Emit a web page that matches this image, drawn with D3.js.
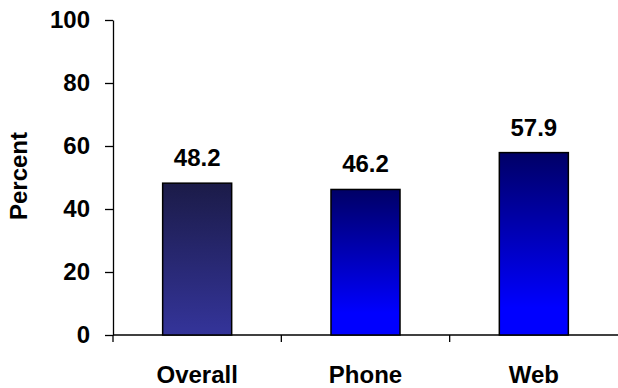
<!DOCTYPE html>
<html>
<head>
<meta charset="utf-8">
<script src="https://cdn.jsdelivr.net/npm/d3@7"></script>
<style>
  body { margin: 0; background: #fff; }
  svg text { font-family: Arial, "Liberation Sans", sans-serif; font-weight: bold; fill: #000; }
</style>
</head>
<body>
<svg id="chart" width="618" height="388"></svg>
<script>
// chart data
const categories = ['Overall', 'Phone', 'Web'];
const values = [48.2, 46.2, 57.9];
const yTicks = [0, 20, 40, 60, 80, 100];
const gradients = [
    { id: 'gOverall', top: '#1b1b48', bottom: '#34349a' },
    { id: 'gPhone', top: '#000066', bottom: '#0000ff' },
    { id: 'gWeb', top: '#000066', bottom: '#0000ff' }
];

const margin = { top: 20, right: 0, bottom: 53, left: 113 };
const width = 618 - margin.left - margin.right;
const height = 388 - margin.top - margin.bottom;

const svg = d3.select('#chart');

const defs = svg.append('defs');
gradients.forEach(g => {
    const lg = defs.append('linearGradient')
        .attr('id', g.id)
        .attr('x1', 0).attr('y1', 0)
        .attr('x2', 0).attr('y2', 1);
    lg.append('stop').attr('offset', '0%').attr('stop-color', g.top);
    lg.append('stop').attr('offset', g.id === 'gOverall' ? '100%' : '85%').attr('stop-color', g.bottom);
    lg.append('stop').attr('offset', '100%').attr('stop-color', g.bottom);
});

const x = d3.scaleBand()
    .domain(categories)
    .range([0, width])
    .paddingInner(0.59)
    .paddingOuter(0.295);

const y = d3.scaleLinear()
    .domain([0, 100])
    .range([height, 0]);

const g = svg.append('g')
    .attr('transform', 'translate(' + margin.left + ',' + margin.top + ')');

// y axis
const yAxis = d3.axisLeft(y)
    .tickValues(yTicks)
    .tickSizeInner(8)
    .tickSizeOuter(0)
    .tickPadding(15);

const yG = g.append('g').attr('class', 'y axis').call(yAxis);
yG.select('.domain').attr('stroke', '#000').attr('stroke-width', 1.3);
yG.selectAll('.tick line').attr('stroke', '#000').attr('stroke-width', 1.3);
yG.selectAll('.tick text')
    .style('font-size', '24px')
    .attr('fill', '#000');

// x axis: ticks at band boundaries
const xG = g.append('g')
    .attr('class', 'x axis')
    .attr('transform', 'translate(0,' + height + ')');

xG.append('line')
    .attr('x1', 0).attr('x2', width)
    .attr('stroke', '#000').attr('stroke-width', 1.3);

const step = x.step();
xG.selectAll('.xtick')
    .data(d3.range(categories.length))
    .enter()
    .append('line')
    .attr('class', 'xtick')
    .attr('x1', i => i * step).attr('x2', i => i * step)
    .attr('y1', 0).attr('y2', 7)
    .attr('stroke', '#000').attr('stroke-width', 1.3);

xG.selectAll('.xlabel')
    .data(categories)
    .enter()
    .append('text')
    .attr('class', 'xlabel')
    .attr('x', d => x(d) + x.bandwidth() / 2)
    .attr('y', 48)
    .attr('text-anchor', 'middle')
    .style('font-size', '24px')
    .text(d => d);

// bars
const data = categories.map((c, i) => ({ cat: c, value: values[i], grad: gradients[i].id }));

g.selectAll('.bar')
    .data(data)
    .enter()
    .append('rect')
    .attr('class', 'bar')
    .attr('x', d => x(d.cat))
    .attr('width', x.bandwidth())
    .attr('y', d => y(d.value))
    .attr('height', d => height - y(d.value))
    .attr('fill', d => 'url(#' + d.grad + ')')
    .attr('stroke', '#000')
    .attr('stroke-width', 1.5);

g.selectAll('.val')
    .data(data)
    .enter()
    .append('text')
    .attr('class', 'val')
    .attr('x', d => x(d.cat) + x.bandwidth() / 2)
    .attr('y', d => y(d.value) - 17)
    .attr('text-anchor', 'middle')
    .style('font-size', '24px')
    .text(d => d.value.toFixed(1));

// y axis title
svg.append('text')
    .attr('transform', 'translate(27,176) rotate(-90)')
    .attr('text-anchor', 'middle')
    .style('font-size', '24px')
    .text('Percent');
</script>
</body>
</html>
